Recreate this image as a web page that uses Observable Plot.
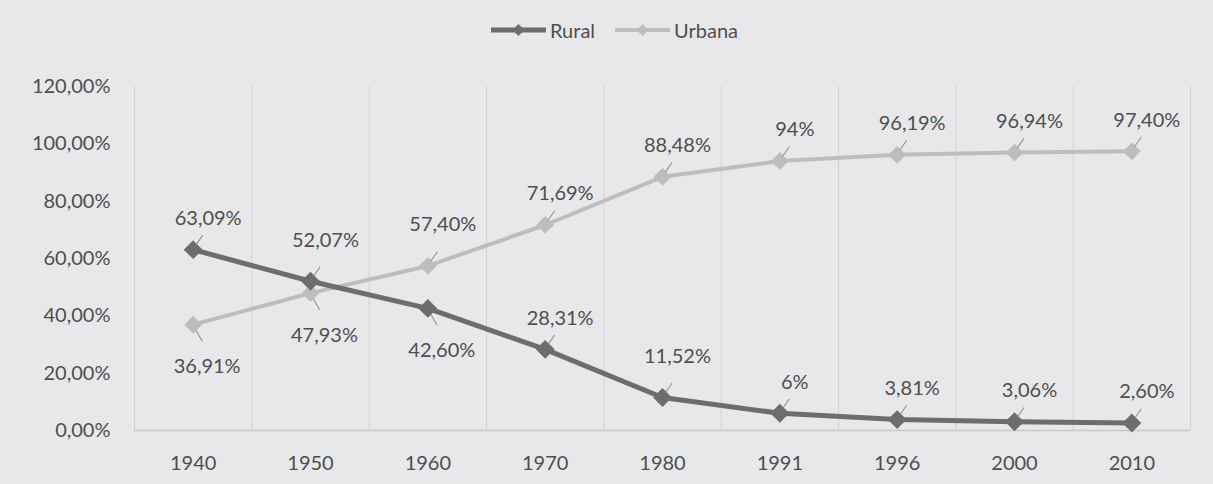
<!DOCTYPE html>
<html>
<head>
<meta charset="utf-8">
<script src="https://cdn.jsdelivr.net/npm/d3@7"></script>
<script src="https://cdn.jsdelivr.net/npm/@observablehq/plot@0.6"></script>
<style>
  html, body { margin: 0; padding: 0; background: #e8e8ea; }
  body { width: 1213px; height: 484px; overflow: hidden; font-family: Lato, "Open Sans", sans-serif; color: #4e4e50; }
  #legend { height: 60px; display: flex; justify-content: center; align-items: center; gap: 20px; padding-left: 16px; box-sizing: border-box; font-size: 20px; }
  .item { display: flex; align-items: center; gap: 4px; }
  #chart svg { display: block; }
</style>
</head>
<body>
<div id="legend"></div>
<div id="chart"></div>
<script>
const years = ["1940", "1950", "1960", "1970", "1980", "1991", "1996", "2000", "2010"];
const rural = [63.09, 52.07, 42.60, 28.31, 11.52, 6, 3.81, 3.06, 2.60];
const urbana = [36.91, 47.93, 57.40, 71.69, 88.48, 94, 96.19, 96.94, 97.40];
const yTicks = [0, 20, 40, 60, 80, 100, 120];
const seriesNames = ["Rural", "Urbana"];

const colors = { Rural: "#6d6d6f", Urbana: "#bdbdbf" };
const widths = { Rural: 5, Urbana: 4 };

const data = [];
years.forEach((y, i) => {
  data.push({ series: "Rural", i, year: y, v: rural[i] });
  data.push({ series: "Urbana", i, year: y, v: urbana[i] });
});

const fmt = v => (Number.isInteger(v) ? String(v) : v.toFixed(2).replace(".", ",")) + "%";
const axisFmt = v => v.toFixed(2).replace(".", ",") + "%";

// label placement groups
const below = { Rural: ["1960"], Urbana: ["1940", "1950"] };
const raised = { Rural: ["1950", "1980"], Urbana: ["1960"] };
const isBelow = d => below[d.series].includes(d.year);
const isRaised = d => raised[d.series].includes(d.year);

// legend
const legend = document.getElementById("legend");
for (const s of seriesNames) {
  const item = document.createElement("div");
  item.className = "item";
  item.innerHTML = `<svg width="55" height="16"><line x1="0" x2="55" y1="8" y2="8" stroke="${colors[s]}" stroke-width="${widths[s]}"/><path d="M27.5,2 L33.5,8 L27.5,14 L21.5,8 Z" fill="${colors[s]}"/></svg><span>${s}</span>`;
  legend.appendChild(item);
}

const leader = { draw(context, l) { context.moveTo(0, 0); context.lineTo(0, -l); } };

const plot = Plot.plot({
  width: 1213,
  height: 424,
  marginLeft: 134,
  marginRight: 23,
  marginTop: 26,
  marginBottom: 54,
  style: { background: "#e8e8ea", fontFamily: "Lato, 'Open Sans', sans-serif", fontSize: "20px", color: "#4e4e50" },
  x: { type: "linear", domain: [-0.5, years.length - 0.5] },
  y: { domain: [0, 120] },
  marks: [
    Plot.ruleX(d3.range(years.length + 1), { x: i => i - 0.5, stroke: "#d2d2d4", strokeWidth: 1 }),
    Plot.ruleY([0], { stroke: "#c8c8ca", strokeWidth: 1.5 }),
    Plot.axisX({ ticks: d3.range(years.length), tickFormat: i => years[i], tickSize: 0, tickPadding: 25, label: null, fill: "#4e4e50", fontSize: 20 }),
    Plot.axisY({ ticks: yTicks, tickFormat: axisFmt, tickSize: 0, tickPadding: 24, label: null, fill: "#4e4e50", fontSize: 20 }),
    Plot.line(data.filter(d => d.series === "Urbana"), { x: "i", y: "v", stroke: colors.Urbana, strokeWidth: widths.Urbana }),
    Plot.dot(data.filter(d => d.series === "Urbana"), { x: "i", y: "v", symbol: "diamond2", r: 8, fill: colors.Urbana, stroke: null }),
    Plot.line(data.filter(d => d.series === "Rural"), { x: "i", y: "v", stroke: colors.Rural, strokeWidth: widths.Rural }),
    Plot.dot(data.filter(d => d.series === "Rural"), { x: "i", y: "v", symbol: "diamond2", r: 8.5, fill: colors.Rural, stroke: null }),
    // leader lines
    Plot.vector(data.filter(d => !isBelow(d)), { x: "i", y: "v", length: 11, rotate: 35, anchor: "start", shape: leader, dx: 3, dy: -5, stroke: "#8c8c8e", strokeWidth: 1 }),
    Plot.vector(data.filter(d => isBelow(d)), { x: "i", y: "v", length: 12, rotate: 150, anchor: "start", shape: leader, dx: 3, dy: 6, stroke: "#8c8c8e", strokeWidth: 1 }),
    // labels
    Plot.text(data.filter(d => !isBelow(d) && !isRaised(d)), { x: "i", y: "v", text: d => fmt(d.v), dx: 15, dy: -31, fill: "#4e4e50", fontSize: 20 }),
    Plot.text(data.filter(d => isRaised(d)), { x: "i", y: "v", text: d => fmt(d.v), dx: 15, dy: -41, fill: "#4e4e50", fontSize: 20 }),
    Plot.text(data.filter(d => isBelow(d)), { x: "i", y: "v", text: d => fmt(d.v), dx: 14, dy: 42, fill: "#4e4e50", fontSize: 20 })
  ]
});
document.getElementById("chart").appendChild(plot);
</script>
</body>
</html>
